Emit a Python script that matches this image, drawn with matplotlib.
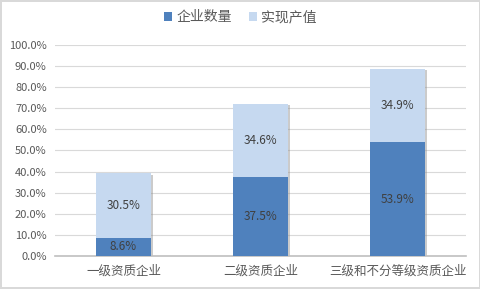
import matplotlib
matplotlib.use('Agg')
import matplotlib.pyplot as plt
import matplotlib.patheffects as pe
from matplotlib.ticker import FuncFormatter

plt.rcParams['font.family'] = ['Noto Sans CJK SC', 'DejaVu Sans']

categories = ['一级资质企业', '二级资质企业', '三级和不分等级资质企业']
series_names = ['企业数量', '实现产值']
company_share = [8.6, 37.5, 53.9]
output_share = [30.5, 34.6, 34.9]
yticks = list(range(0, 101, 10))

colors = ['#4f81bd', '#c6d9f0']
text_color = '#595959'

fig = plt.figure(figsize=(4.81, 2.89), dpi=100)
fig.patch.set_edgecolor('#d9d9d9')
fig.patch.set_linewidth(1.5)
ax = fig.add_axes([0.1143, 0.1142, 0.8545, 0.7301])

x = range(len(categories))
totals = [a + b for a, b in zip(company_share, output_share)]

# soft shadow behind each whole stack
shadow = [pe.SimplePatchShadow(offset=(1.5, -1.0), shadow_rgbFace='#8c8c8c', alpha=0.45)]
ax.bar(x, totals, width=0.4, color='none', zorder=2, path_effects=shadow)

b1 = ax.bar(x, company_share, width=0.4, color=colors[0], label=series_names[0], zorder=3)
b2 = ax.bar(x, output_share, width=0.4, bottom=company_share, color=colors[1],
            label=series_names[1], zorder=3)

for i in x:
    ax.text(i, company_share[i] / 2, '{:.1f}%'.format(company_share[i]),
            ha='center', va='center', fontsize=8.5, color='#404040', zorder=4)
    ax.text(i, company_share[i] + output_share[i] / 2, '{:.1f}%'.format(output_share[i]),
            ha='center', va='center', fontsize=8.5, color='#404040', zorder=4)

ax.set_xlim(-0.5, 2.5)
ax.set_ylim(0, 100)
ax.set_yticks(yticks)
ax.yaxis.set_major_formatter(FuncFormatter(lambda v, p: '{:.1f}%'.format(v)))
ax.grid(axis='y', color='#d9d9d9', linewidth=0.8, zorder=0)
ax.set_xticks(list(x))
ax.set_xticklabels(categories)
ax.tick_params(axis='both', length=0, colors=text_color, labelsize=8)
ax.tick_params(axis='x', labelsize=9, pad=6)
ax.tick_params(axis='y', pad=6)
for side in ['right', 'left', 'top']:
    ax.spines[side].set_visible(False)
ax.spines['bottom'].set_color('#bfbfbf')
ax.spines['bottom'].set_linewidth(1.2)

leg = fig.legend(handles=[b1, b2], loc='center', bbox_to_anchor=(0.5, 0.94), ncol=2,
                 frameon=False, fontsize=10, handlelength=0.6, handleheight=0.6,
                 handletextpad=0.3, columnspacing=1.2)
for t in leg.get_texts():
    t.set_color(text_color)

fig.savefig('out.png', dpi=100)
